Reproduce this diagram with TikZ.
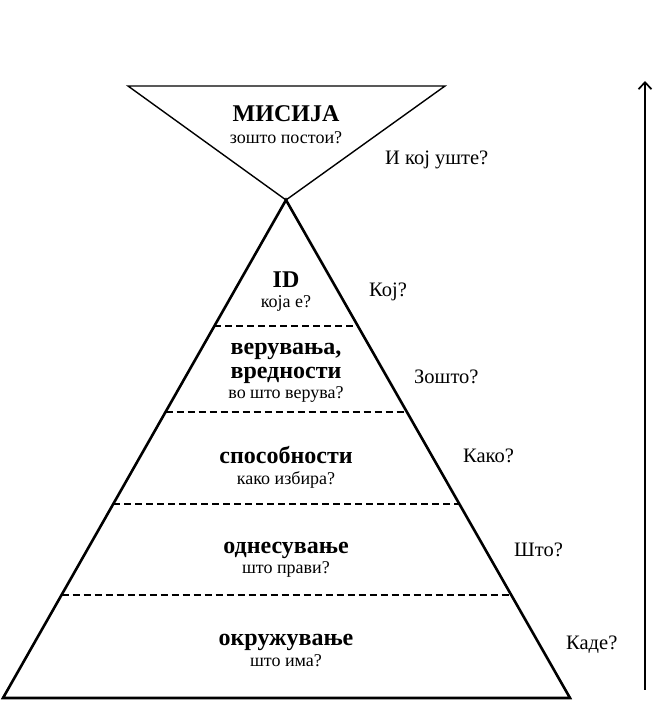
\documentclass[tikz,border=0pt]{standalone}
\usepackage{fontspec}
\setmainfont{Liberation Serif}
\usetikzlibrary{calc,arrows.meta}
\begin{document}
\begin{tikzpicture}[x=1pt, y=1pt,
  title node/.style={font=\fontsize{24}{27}\selectfont\bfseries,anchor=base},
  sub node/.style={font=\fontsize{18}{20}\selectfont,anchor=base},
  ask node/.style={font=\fontsize{20.5}{23}\selectfont,anchor=base west},
  level line/.style={line width=1.2pt,dash pattern=on 7pt off 4pt}]
\useasboundingbox (0,0) rectangle (656,702);
\coordinate (tl) at (128,616);
\coordinate (tr) at (445,616);
\coordinate (apex) at (286,502);
\coordinate (bl) at (3,4);
\coordinate (br) at (570,4);
% mission triangle and pyramid
\draw[line width=1.4pt, line join=miter] (tl) -- (tr) -- (apex) -- cycle;
\draw[line width=2.6pt, line join=miter] (apex) -- (br) -- (bl) -- cycle;
% levels
\foreach \t in {0.253,0.4257,0.6104,0.7932}
  \draw[level line] ($(apex)!\t!(bl)$) -- ($(apex)!\t!(br)$);
% arrow
\coordinate (up0) at (645,12);
\coordinate (up1) at (645,621);
\draw[line width=1.7pt, -{Straight Barb[length=7pt,width=13pt,line width=1.7pt]}] (up0) -- (up1);
\begin{scope}[every node/.style={inner sep=0pt}]
\node[title node] (mis) at (286,580) {МИСИЈА};
\node[sub node] (mis2) at (286,558) {зошто постои?};
\node[title node] (id) at (286,414) {ID};
\node[sub node] (id2) at (286,394) {која е?};
\node[title node] (ver) at (286,347) {верувања,};
\node[title node] (vre) at (286,323) {вредности};
\node[sub node] (ver2) at (286,303) {во што верува?};
\node[title node] (spo) at (286,238) {способности};
\node[sub node] (spo2) at (286,217) {како избира?};
\node[title node] (odn) at (286,148) {однесување};
\node[sub node] (odn2) at (286,128) {што прави?};
\node[title node] (okr) at (286,56) {окружување};
\node[sub node] (okr2) at (286,35) {што има?};
\node[ask node] (q1) at (385,537) {И кој уште?};
\node[ask node] (q2) at (369,405) {Кој?};
\node[ask node] (q3) at (414,318) {Зошто?};
\node[ask node] (q4) at (463,239) {Како?};
\node[ask node] (q5) at (514,145) {Што?};
\node[ask node] (q6) at (566,52) {Каде?};
\end{scope}
\end{tikzpicture}
\end{document}
